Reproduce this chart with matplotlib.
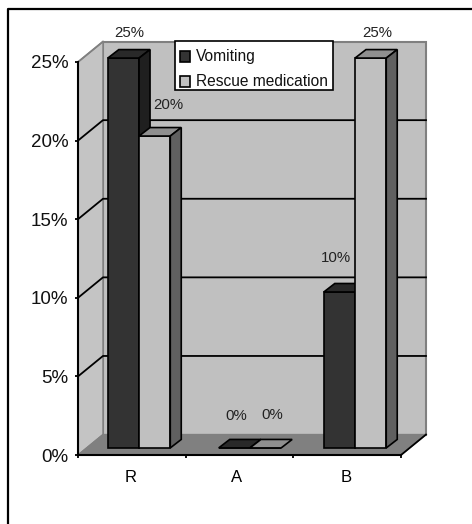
import matplotlib
matplotlib.use("Agg")
import matplotlib.pyplot as plt
from matplotlib.lines import Line2D
from matplotlib.patches import Polygon

plt.rcParams["font.family"] = ["Liberation Sans", "DejaVu Sans"]

categories = ["R", "A", "B"]
vomiting = [25, 0, 10]
rescue = [20, 0, 25]
y_ticks = [0, 5, 10, 15, 20, 25]

W, H = 472, 524

# pixel box of the front axes
fig = plt.figure(figsize=(W / 100, H / 100), dpi=100)
ax = fig.add_axes([78 / W, 1 - 455 / H, 323 / W, 393 / H])
ax.set_xlim(0, 3)
ax.set_ylim(0, 25)

# ---------- 3d look, in data units ----------
wall_dx, wall_dy = 0.232, 1.3
bar_dx, bar_dy = 0.102, 0.54
bar_base = 0.45
bar_scale = 0.992  # bars sit a touch shorter than the front axis
bar_w = 0.29
group_mid = [0.567, 1.597, 2.573]
label_x = [0.492, 1.476, 2.488]

# floor and walls
ax.add_patch(Polygon([(wall_dx, wall_dy), (3 + wall_dx, wall_dy), (3 + wall_dx, 25 + wall_dy), (wall_dx, 25 + wall_dy)],
                     fc="#c0c0c0", ec="#808080", lw=1.5, clip_on=False, zorder=1))
ax.add_patch(Polygon([(0, 0), (wall_dx, wall_dy), (wall_dx, 25 + wall_dy), (0, 25)],
                     fc="#c4c4c4", ec="#808080", lw=1, clip_on=False, zorder=1))
ax.add_patch(Polygon([(0, 0), (3, 0), (3 + wall_dx, wall_dy), (wall_dx, wall_dy)],
                     fc="#808080", ec="#808080", lw=1, clip_on=False, zorder=1))

# gridlines, run round the side wall
for t in y_ticks[1:-1]:
    ax.plot([0, wall_dx, 3 + wall_dx], [t, t + wall_dy, t + wall_dy], color="black", lw=1.3,
            clip_on=False, zorder=2)
ax.plot([0, wall_dx], [25, 25 + wall_dy], color="#808080", lw=1.3, clip_on=False, zorder=2)
ax.plot([3, 3 + wall_dx], [0, wall_dy], color="black", lw=1.3, clip_on=False, zorder=2)


def draw_bar(x, v, front, top, side, z):
    h = v * bar_scale
    ax.bar(x, h, bar_w, bottom=bar_base, align="edge", color=front, edgecolor="black", lw=1.2,
           zorder=z, clip_on=False)
    y = bar_base + h
    ax.add_patch(Polygon([(x, y), (x + bar_w, y), (x + bar_w + bar_dx, y + bar_dy), (x + bar_dx, y + bar_dy)],
                         fc=top, ec="black", lw=1.2, clip_on=False, zorder=z))
    if v > 0:
        ax.add_patch(Polygon([(x + bar_w, bar_base), (x + bar_w + bar_dx, bar_base + bar_dy),
                              (x + bar_w + bar_dx, y + bar_dy), (x + bar_w, y)],
                             fc=side, ec="black", lw=1.2, clip_on=False, zorder=z))


# label offsets in pixels from the bar's front top centre
off_v = [(5.5, 25), (2, 32), (-3, 34)]
off_r = [(14, 31), (7, 33), (7, 25)]

for i in range(len(categories)):
    x0 = group_mid[i] - bar_w
    x1 = group_mid[i]
    draw_bar(x0, vomiting[i], "#333333", "#292929", "#1f1f1f", 3)
    draw_bar(x1, rescue[i], "#c0c0c0", "#8f8f8f", "#606060", 4)
    for x, v, off in [(x0, vomiting[i], off_v[i]), (x1, rescue[i], off_r[i])]:
        ax.annotate(f"{v}%", (x + bar_w / 2, bar_base + v * bar_scale), xytext=(off[0] * 0.72, off[1] * 0.72),
                    textcoords="offset points", ha="center", va="center", fontsize=10.8,
                    color="#222222", zorder=6, annotation_clip=False)

# axes
for s in ["top", "right"]:
    ax.spines[s].set_visible(False)
for s in ["left", "bottom"]:
    ax.spines[s].set_linewidth(1.5)
    ax.spines[s].set_zorder(5)
ax.patch.set_visible(False)
ax.set_yticks(y_ticks)
ax.set_yticklabels([f"{t}%" for t in y_ticks], fontsize=13.5, color="#111111")
ax.set_xticks([0, 1, 2, 3])
ax.set_xticklabels([])
ax.tick_params(axis="both", length=2.5, width=1.3, pad=4.5)
for i, c in enumerate(categories):
    ax.annotate(c, (label_x[i], 0), xytext=(0, -22 * 0.72), textcoords="offset points",
                ha="center", va="center", fontsize=12, annotation_clip=False)

handles = [
    plt.Rectangle((0, 0), 1, 1, fc="#333333", ec="black", lw=1.2),
    plt.Rectangle((0, 0), 1, 1, fc="#c0c0c0", ec="black", lw=1.2),
]
leg = ax.legend(handles, ["Vomiting", "Rescue medication"], loc="upper left",
                bbox_to_anchor=((175 - 78) / 323, (455 - 41) / 393), fontsize=11.2, fancybox=False,
                framealpha=1, edgecolor="black", borderaxespad=0, handlelength=0.65, handleheight=0.65,
                handletextpad=0.4, labelspacing=0.65, borderpad=0.3)
leg.set_zorder(7)
leg.get_frame().set_linewidth(1.2)
# text and keys sit low in the box in the original
for t in leg.get_texts():
    t.set_color("#111111")
    t.set_y(-3)
for p in leg.legend_handles:
    p.set_y(p.get_y() - 3)

# chart frame, its right and bottom sides fall off the picture
fig.add_artist(Line2D([8 / W, 8 / W, 1], [0, 1 - 9 / H, 1 - 9 / H], color="black", lw=1.6))

fig.savefig("out.png", dpi=100)
plt.close()
